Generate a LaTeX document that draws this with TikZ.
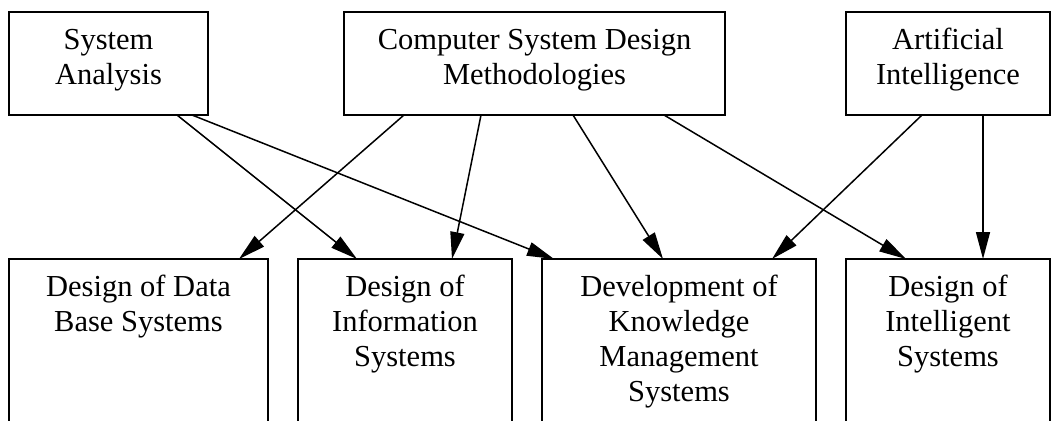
\documentclass[tikz,border=0pt]{standalone}
\usepackage{fontspec}
\setmainfont{Liberation Serif}
\usetikzlibrary{arrows.meta}
\tikzset{
  boxnode/.style={draw=black, line width=1.5pt, inner sep=0pt, outer sep=0pt, anchor=north west,
    font=\fontsize{30.5}{35}\selectfont},
  conn/.style={line width=1.5pt, -{Triangle[length=27pt,width=14pt]}}
}
\newcommand{\boxtext}[3]{\parbox[t][#2pt][t]{#1pt}{\centering\rule{0pt}{37pt}#3}}
\begin{document}
\begin{tikzpicture}[x=1pt,y=-1pt]
\clip (0,0) rectangle (1051,420);
\fill[white] (0,0) rectangle (1051,420);
% top row
\node[boxnode] (sa) at (9,12) {\boxtext{199}{103}{System\\Analysis}};
\node[boxnode] (csd) at (344,12) {\boxtext{381}{103}{Computer System Design\\Methodologies}};
\node[boxnode] (ai) at (846,12) {\boxtext{204}{103}{Artificial\\Intelligence}};
% bottom row
\node[boxnode] (db) at (9,259) {\boxtext{259}{181}{Design of Data\\Base Systems}};
\node[boxnode] (info) at (298,259) {\boxtext{214}{181}{Design of\\Information\\Systems}};
\node[boxnode] (km) at (542,259) {\boxtext{274}{181}{Development of\\Knowledge\\Management\\Systems}};
\node[boxnode] (int) at (846,259) {\boxtext{204}{181}{Design of\\Intelligent\\Systems}};
% connectors
\draw[conn] ([xshift=168pt]sa.south west) -- ([xshift=59pt]info.north west);
\draw[conn] ([xshift=183pt]sa.south west) -- ([xshift=12pt]km.north west);
\draw[conn] ([xshift=60pt]csd.south west) -- ([xshift=230pt]db.north west);
\draw[conn] ([xshift=137pt]csd.south west) -- ([xshift=154pt]info.north west);
\draw[conn] ([xshift=229pt]csd.south west) -- ([xshift=121pt]km.north west);
\draw[conn] ([xshift=320pt]csd.south west) -- ([xshift=60pt]int.north west);
\draw[conn] ([xshift=76pt]ai.south west) -- ([xshift=230pt]km.north west);
\draw[conn] ([xshift=137pt]ai.south west) -- ([xshift=137pt]int.north west);
\end{tikzpicture}
\end{document}
